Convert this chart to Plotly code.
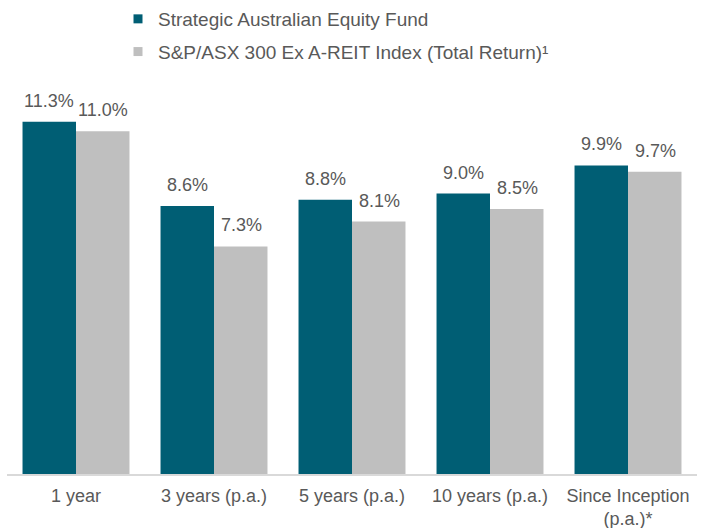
import plotly.graph_objects as go

categories = ["1 year", "3 years (p.a.)", "5 years (p.a.)", "10 years (p.a.)", "Since Inception<br>(p.a.)*"]
fund_name = "Strategic Australian Equity Fund"
index_name = "S&P/ASX 300 Ex A-REIT Index (Total Return)¹"
fund_values = [11.3, 8.6, 8.8, 9.0, 9.9]
index_values = [11.0, 7.3, 8.1, 8.5, 9.7]

FUND_COLOR = "#005E74"
INDEX_COLOR = "#BFBFBF"
TEXT_COLOR = "#595959"
FONT = "Liberation Sans, Arial, sans-serif"

fig = go.Figure()
fig.add_trace(go.Bar(x=categories, y=fund_values, name=fund_name,
                     marker=dict(color=FUND_COLOR, line=dict(width=0)),
                     showlegend=False, hoverinfo="skip"))
fig.add_trace(go.Bar(x=categories, y=index_values, name=index_name,
                     marker=dict(color=INDEX_COLOR, line=dict(width=0)),
                     showlegend=False, hoverinfo="skip"))

# legend entries with small square markers
fig.add_trace(go.Scatter(x=[None], y=[None], mode="markers", name=fund_name,
                         marker=dict(symbol="square", size=9, color=FUND_COLOR),
                         legendgroup="a"))
fig.add_trace(go.Scatter(x=[None], y=[None], mode="markers", name=index_name,
                         marker=dict(symbol="square", size=9, color=INDEX_COLOR),
                         legendgroup="b"))

annotations = []
for cat, fv, iv in zip(categories, fund_values, index_values):
    for val, shift in ((fv, -27), (iv, 27)):
        annotations.append(dict(
            x=cat, y=val, xref="x", yref="y", text=f"{val:.1f}%",
            showarrow=False, xanchor="center", yanchor="bottom",
            xshift=shift, yshift=9,
            font=dict(family=FONT, size=18, color=TEXT_COLOR)))

fig.update_layout(
    width=706, height=528,
    margin=dict(l=7, r=9, t=100, b=54, autoexpand=False),
    paper_bgcolor="white", plot_bgcolor="white",
    barmode="group", bargap=0.225, bargroupgap=0,
    font=dict(family=FONT, size=18, color=TEXT_COLOR),
    annotations=annotations,
    legend=dict(
        x=(118 - 7) / 690, y=1 + 100 / 374, xanchor="left", yanchor="top",
        orientation="v", traceorder="grouped", tracegroupgap=5,
        font=dict(family=FONT, size=19, color=TEXT_COLOR),
        bgcolor="rgba(0,0,0,0)", borderwidth=0,
    ),
    xaxis=dict(
        showline=True, linecolor="#D9D9D9", linewidth=2,
        ticks="", showgrid=False, zeroline=False, tickangle=0,
        ticklabelstandoff=4,
        tickfont=dict(family=FONT, size=18, color=TEXT_COLOR),
    ),
    yaxis=dict(
        range=[0, 12], visible=False, showgrid=False, zeroline=False,
    ),
)

fig.write_html("out.html",
               config={"displayModeBar": False, "staticPlot": True},
               post_script="document.body.style.margin='0px';document.body.style.overflow='hidden';")
